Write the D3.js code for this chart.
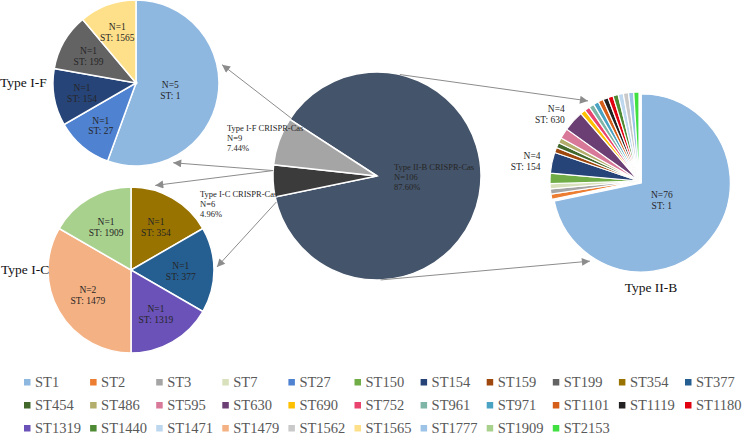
<!DOCTYPE html>
<html>
<head>
<meta charset="utf-8">
<script src="https://cdn.jsdelivr.net/npm/d3@7"></script>
<style>
  body { margin: 0; background: #fff; }
</style>
</head>
<body>
<svg id="chart" width="747" height="435" font-family="'Liberation Serif', 'DejaVu Serif', 'Times New Roman', serif"></svg>
<script>
// data
const stCodes = ["ST1","ST2","ST3","ST7","ST27","ST150","ST154","ST159","ST199","ST354","ST377",
  "ST454","ST486","ST595","ST630","ST690","ST752","ST961","ST971","ST1101","ST1119","ST1180",
  "ST1319","ST1440","ST1471","ST1479","ST1562","ST1565","ST1777","ST1909","ST2153"];
const stColors = ["#8fb8e1","#ed7d31","#a5a5a5","#d8e1bb","#4f82d0","#70ad47","#264478","#9e480e","#636363","#997300","#255e91",
  "#43682b","#b3ae6c","#d9799a","#6b3f74","#ffc000","#e8446e","#7fb5a7","#4ba3c3","#d55e18","#222222","#e10010",
  "#6a52b8","#4e8a33","#bdd7ee","#f4b183","#c9c9c9","#ffe08a","#9dc3e6","#a9d18e","#3fe03f"];

const typeNames = ["Type II-B CRISPR-Cas", "Type I-C CRISPR-Cas", "Type I-F CRISPR-Cas"];
const typeCounts = [106, 6, 9];
const typeColors = ["#44546a", "#3b3b3b", "#a5a5a5"];

const ifST = ["ST1","ST27","ST154","ST199","ST1565"];
const ifN  = [5, 1, 1, 1, 1];
const icST = ["ST354","ST377","ST1319","ST1479","ST1909"];
const icN  = [1, 1, 1, 2, 1];
const iibST = ["ST1","ST2","ST3","ST7","ST150","ST154","ST159","ST454","ST486","ST595","ST630",
  "ST690","ST752","ST961","ST971","ST1101","ST1119","ST1180","ST1440","ST1471","ST1562","ST1777","ST2153"];
const iibN  = [76, 1, 1, 1, 2, 4, 1, 1, 1, 2, 4, 1, 1, 1, 1, 1, 1, 1, 1, 1, 1, 1, 1];

const color = d3.scaleOrdinal().domain(stCodes).range(stColors);
const svg = d3.select("#chart");
const rad = a => a * Math.PI / 180;
const pt = (c, r, deg) => [c.x + r * Math.sin(rad(deg)), c.y - r * Math.cos(rad(deg))];

// arrow marker
svg.append("defs").append("marker")
  .attr("id", "arr").attr("viewBox", "0 0 10 10")
  .attr("refX", 10).attr("refY", 5)
  .attr("markerWidth", 9).attr("markerHeight", 8)
  .attr("markerUnits", "userSpaceOnUse")
  .attr("orient", "auto")
  .append("path").attr("d", "M0,0 L10,5 L0,10 Z").attr("fill", "#8c8c8c");

function drawPie(c, r, names, values, labelR, opts) {
  const pie = d3.pie().sort(null).value(d => d.v);
  const data = pie(names.map((n, i) => ({ n, v: values[i] })));
  const arc = d3.arc().innerRadius(0).outerRadius(r);
  const explode = opts.explode || (() => 0);
  const g = svg.append("g").attr("transform", `translate(${c.x},${c.y})`);
  g.selectAll("path").data(data).enter().append("path")
    .attr("d", arc)
    .attr("transform", d => {
      const m = (d.startAngle + d.endAngle) / 2, e = explode(d);
      return `translate(${e * Math.sin(m)},${-e * Math.cos(m)})`;
    })
    .attr("fill", d => color(d.data.n))
    .attr("stroke", "#fff")
    .attr("stroke-width", opts.sw || 1.5);
  const lab = data.filter(opts.labelFilter || (() => true));
  const tg = g.selectAll("g.lab").data(lab).enter().append("g")
    .attr("transform", d => {
      const m = (d.startAngle + d.endAngle) / 2;
      const lr = labelR(d) * r;
      return `translate(${lr * Math.sin(m)},${-lr * Math.cos(m)})`;
    });
  tg.append("text")
    .attr("text-anchor", d => labelR(d) > 1 ? "end" : "middle")
    .attr("font-size", opts.fs || 9.5)
    .attr("fill", "#262626")
    .selectAll("tspan")
    .data(d => [`N=${d.data.v}`, `ST: ${d.data.n.slice(2)}`])
    .enter().append("tspan")
    .attr("x", 0)
    .attr("dy", (d, i) => i === 0 ? "-0.15em" : "1.15em")
    .text(d => d);
  return data;
}

// centre pie of CRISPR-Cas types
const cc = { x: 377, y: 176 }, cr = 104;
const total = d3.sum(typeCounts);
const tpie = d3.pie().sort(null).value(d => d.v)
  .startAngle(rad(-57)).endAngle(rad(303));
const tdata = tpie(typeNames.map((n, i) => ({ n, v: typeCounts[i], c: typeColors[i] })));
const tarc = d3.arc().innerRadius(0).outerRadius(cr);
const tg = svg.append("g").attr("transform", `translate(${cc.x},${cc.y})`);
tg.selectAll("path").data(tdata).enter().append("path")
  .attr("d", tarc).attr("fill", d => d.data.c)
  .attr("stroke", "#fff").attr("stroke-width", 1.5);

// centre label offsets (relative to centre pie)
const tLabelPos = [[17, -6], [-177, 21], [-150, -45]];
tdata.forEach((d, i) => {
  const t = tg.append("text")
    .attr("x", tLabelPos[i][0]).attr("y", tLabelPos[i][1])
    .attr("font-size", 8.5).attr("fill", "#262626");
  [d.data.n, `N=${d.data.v}`, (d.data.v / total * 100).toFixed(2) + "%"].forEach((s, j) => {
    t.append("tspan").attr("x", tLabelPos[i][0]).attr("dy", j === 0 ? 0 : "1.15em").text(s);
  });
});

// sub pies
const ifC = { x: 136, y: 83 }, icC = { x: 131, y: 270 }, iibC = { x: 639, y: 181 };
const subR = 83, iibR = 89;

drawPie(ifC, subR, ifST, ifN, d => d.data.v > 1 ? 0.42 : 0.66, {});
drawPie(icC, subR, icST, icN, d => 0.6, {});
drawPie(iibC, iibR, iibST, iibN, d => d.data.v > 10 ? 0.33 : 1.13,
  { labelFilter: d => d.data.v >= 4, sw: 1.2, explode: d => d.data.v > 10 ? 3 : 0 });

// titles
const titles = [["Type I-F", 0, 87, "start"], ["Type I-C", 1, 274, "start"], ["Type II-B", 651, 292, "middle"]];
svg.selectAll("text.title").data(titles).enter().append("text")
  .attr("class", "title")
  .attr("x", d => d[1]).attr("y", d => d[2])
  .attr("text-anchor", d => d[3])
  .attr("font-size", 13.5).attr("fill", "#111")
  .text(d => d[0]);

// connector arrows: [from centre angle, centre radius, target centre, target angle, target radius]
const arrows = [
  [304, cr, ifC, 78, subR + 5],
  [273, cr, ifC, 155, subR + 5],
  [273, cr, icC, 16, subR + 5],
  [255.5, cr, icC, 88, subR + 3],
  [12.7, cr, iibC, 327.5, iibR + 6],
  [178, cr, iibC, 211.5, iibR + 5]
];
svg.selectAll("line.arrow").data(arrows).enter().append("line")
  .attr("class", "arrow")
  .each(function(d) {
    const a = pt(cc, d[1], d[0]), b = pt(d[2], d[4], d[3]);
    d3.select(this).attr("x1", a[0]).attr("y1", a[1]).attr("x2", b[0]).attr("y2", b[1]);
  })
  .attr("stroke", "#8c8c8c").attr("stroke-width", 1)
  .attr("marker-end", "url(#arr)");

// legend
const cols = 11, colW = 66.1, lx0 = 24, ly0 = 382, rowH = 23;
const leg = svg.selectAll("g.leg").data(stCodes).enter().append("g")
  .attr("class", "leg")
  .attr("transform", (d, i) => `translate(${lx0 + (i % cols) * colW},${ly0 + Math.floor(i / cols) * rowH})`);
leg.append("rect").attr("x", 0).attr("y", -3).attr("width", 6.5).attr("height", 6.5)
  .attr("fill", d => color(d));
leg.append("text").attr("x", 11).attr("y", 5)
  .attr("font-size", 14.5).attr("fill", "#595959")
  .text(d => d);
</script>
</body>
</html>
